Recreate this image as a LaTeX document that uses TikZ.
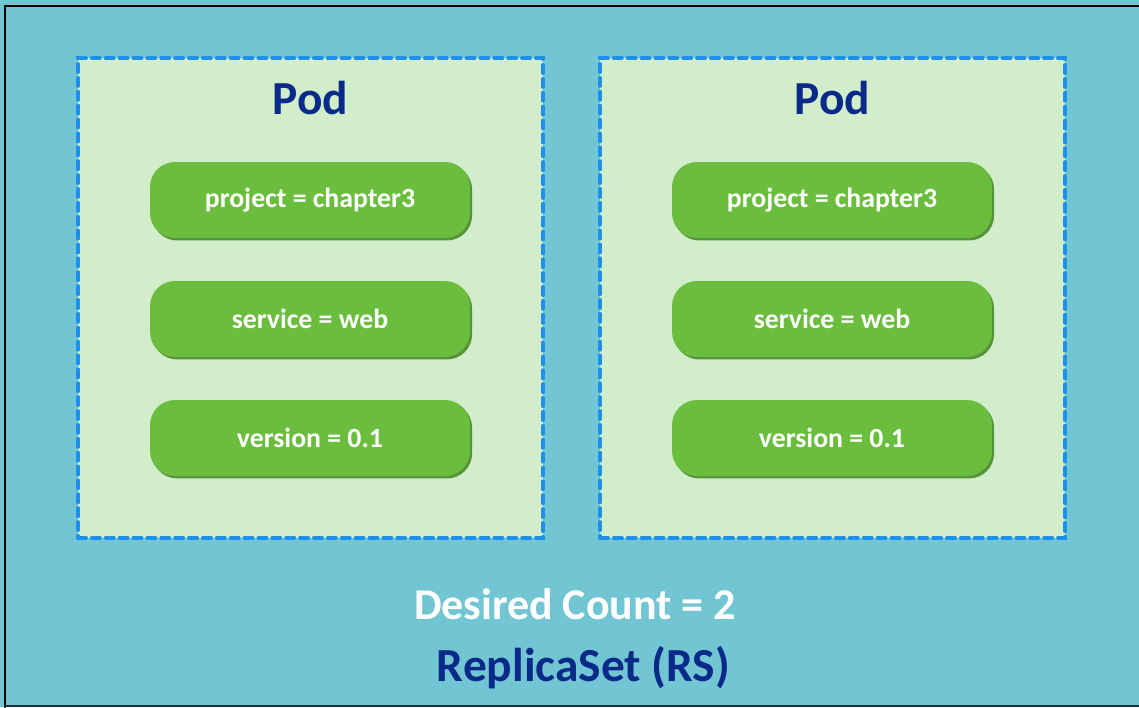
\documentclass[tikz,border=0pt]{standalone}
\usepackage{fontspec}
\setmainfont{Carlito}
\usepackage{tikz}
\usetikzlibrary{shadows}
\definecolor{rsBlue}{HTML}{72C5D3}
\definecolor{podFill}{HTML}{D1EDC9}
\definecolor{podEdge}{HTML}{1E8FEA}
\definecolor{labelGreen}{HTML}{6ABD3D}
\definecolor{labelShade}{HTML}{4A8A2C}
\definecolor{titleBlue}{HTML}{0A2A8A}
\tikzset{
  pod/.style={draw=podEdge, fill=podFill, line width=2.3pt, dash pattern=on 4.5pt off 3.4pt,
    minimum width=9.3cm, minimum height=9.6cm, inner sep=0pt},
  label/.style={fill=labelGreen, rounded corners=0.5cm, minimum width=6.4cm, minimum height=1.52cm,
    text=white, font=\bfseries\fontsize{15.8}{19}\selectfont,
    drop shadow={shadow xshift=1.2pt, shadow yshift=-1.4pt, fill=labelShade, opacity=0.9}},
  podtitle/.style={text=titleBlue, font=\bfseries\fontsize{27}{32}\selectfont}
}

\begin{document}
\begin{tikzpicture}[x=0.02cm, y=-0.02cm, line cap = round]

  \useasboundingbox (0,0) rectangle (1139,707);
  \fill[rsBlue] (0,0) rectangle (1139,707);
  \draw[line width=1.6pt, black] (1139,6) -- (5,6) -- (5,707);
  \draw[line width=0.6pt, black!75!rsBlue] (5,706) -- (1139,706);

  % left pod
  \node[pod] (podA) at (310.5,298) {};
  \node[podtitle] (podAtitle) at (310.5,98) {Pod};
  \node[label] (projA) at (310,200) {project = chapter3};
  \node[label] (servA) at (310,319) {service = web};
  \node[label] (versA) at (310,438) {version = 0.1};

  % right pod
  \node[pod] (podB) at (832.5,298) {};
  \node[podtitle] (podBtitle) at (832.5,98) {Pod};
  \node[label] (projB) at (832,200) {project = chapter3};
  \node[label] (servB) at (832,319) {service = web};
  \node[label] (versB) at (832,438) {version = 0.1};

  \node[text=white, font=\bfseries\fontsize{25}{30}\selectfont] (count) at (575,604) {Desired Count = 2};
  \node[text=titleBlue, font=\bfseries\fontsize{27}{32}\selectfont] (rs) at (583.5,668) {ReplicaSet (RS)};
\end{tikzpicture}
\end{document}
